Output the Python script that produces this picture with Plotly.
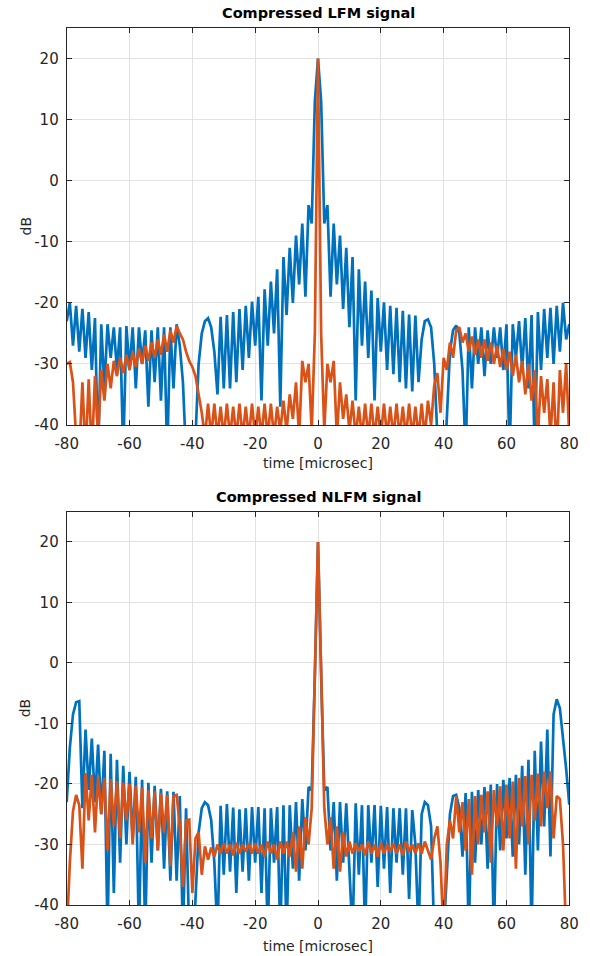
import plotly.graph_objects as go

# ---------------- data ----------------
TIME = list(range(-80, 81))  # sample times, microseconds

LFM_BLUE = [
    -23, -20, -27, -20.5, -28, -21, -29, -21.5, -31, -22.5,          # -80..-71
    -45, -23.5, -34, -23.5, -29, -24, -31, -24, -45, -23.8,          # -70..-61
    -31, -24, -34, -24, -30, -24.5, -37, -24.5, -33, -24,            # -60..-51
    -36, -24, -45, -24, -34, -23.5, -27, -33, -45, -50,              # -50..-41
    -50, -42, -30, -25, -23, -22.5, -24, -28, -35, -22.3,            # -40..-31
    -34, -22, -34, -21.5, -33, -21, -31, -20.5, -29, -19.8,          # -30..-21
    -27, -19, -36, -17.8, -27, -16.5, -25, -14.5, -37, -12.5,        # -20..-11
    -22, -11, -20, -9, -17, -7, -19, -4, -7, 13,                     # -10..-1
    20,                                                              # 0
    13, -7, -4, -19, -7, -17, -9, -21, -11, -24,                     # 1..10
    -12.5, -36, -14.5, -27, -16.5, -29, -18, -36, -19.2, -28,        # 11..20
    -19.9, -31, -20.5, -31.7, -20.8, -33, -21.3, -34, -21.9, -34.5,  # 21..30
    -22.1, -33, -26, -23, -22.7, -24, -30, -42, -50, -50,            # 31..40
    -38, -28, -24.5, -23.7, -25, -31, -45, -24, -34, -24,            # 41..50
    -30, -24, -32, -24.5, -30, -24, -29, -24, -31, -23.5,            # 51..60
    -45, -23.5, -29, -23, -31, -22.5, -34, -22, -45, -21.5,          # 61..70
    -31, -21, -29, -20.8, -30, -20.5, -28, -20, -26, -23.5,          # 71..80
]

LFM_ORANGE = [
    -30, -29.7, -33, -42, -45, -33, -45, -32.5, -45, -32,            # -80..-71
    -42, -31, -36, -30, -34, -29.5, -32, -29, -31.5, -28.5,          # -70..-61
    -31, -28, -30.5, -27.5, -30, -27, -29.5, -26.5, -29, -26,        # -60..-51
    -28.5, -25.2, -28, -24.5, -26.5, -23.8, -25, -26, -28, -29.5,    # -50..-41
    -30.5, -32, -35, -38, -42, -36.5, -42, -36.5, -42, -37,          # -40..-31
    -42, -36.5, -42, -37, -42, -36.5, -42, -37, -42, -36.5,          # -30..-21
    -42, -37, -42, -36.5, -42, -36.5, -42, -37, -41, -36,            # -20..-11
    -41, -35, -39, -33, -42, -29.5, -33, -30, -41, -25,              # -10..-1
    20,                                                              # 0
    -25, -41, -30, -33, -29.5, -42, -33, -39, -35, -41,              # 1..10
    -36, -42, -37, -42, -36.5, -42, -36.5, -42, -37, -42,            # 11..20
    -36.5, -42, -37, -42, -36.5, -42, -37, -42, -36.5, -42,          # 21..30
    -37, -42, -36.5, -42, -36, -40, -33.5, -31.5, -38, -29,          # 31..40
    -31, -26.5, -29, -24.5, -24, -26.5, -25, -28, -25.5, -28.5,      # 41..50
    -26, -29, -26, -29.5, -26.5, -30, -27, -30.5, -27.5, -31,        # 51..60
    -28, -32, -28.5, -33, -29.5, -35, -30, -36, -31, -42,            # 61..70
    -32, -38, -32.5, -42, -33, -45, -31, -38, -30, -42,              # 71..80
]

NLFM_BLUE = [
    -23, -14, -8.5, -6.5, -6.3, -24, -11, -21, -12.5, -23,           # -80..-71
    -13.5, -25, -14.5, -45, -15, -38, -16, -33, -17, -30,            # -70..-61
    -18, -29, -18.8, -45, -19.3, -45, -19.8, -33, -20.3, -31,        # -60..-51
    -20.8, -34, -21.2, -36, -21.3, -36, -22, -45, -24, -45,          # -50..-41
    -50, -38, -28, -24, -23, -23.5, -26, -33, -45, -23.6,            # -40..-31
    -35, -23.3, -34.5, -23.9, -38, -24.2, -34.5, -24, -36, -23.8,    # -30..-21
    -33, -23.8, -38, -24, -45, -24, -33, -23.8, -45, -23.5,          # -20..-11
    -45, -23.5, -34, -23, -36, -22.5, -31, -20.5, -21, -2,           # -10..-1
    20,                                                              # 0
    -2, -21, -20.5, -31, -23, -36, -23, -33, -23.2, -34,             # 1..10
    -45, -23.2, -35, -23.5, -45, -23.5, -33, -23.5, -37, -23.6,      # 11..20
    -34, -23.8, -38, -24, -33, -24, -35, -24, -39, -24.3,            # 21..30
    -30, -45, -25, -23, -23.5, -27, -45, -50, -50, -45,              # 31..40
    -35, -25, -22, -21.8, -24, -32, -21.5, -45, -21.3, -33,          # 41..50
    -21, -30, -20.5, -34, -20.1, -45, -20, -31, -19.3, -29,          # 51..60
    -19, -32, -18.5, -30, -17, -35, -16, -45, -14.5, -31,            # 61..70
    -13, -27, -11, -32, -8.5, -6, -7.5, -12, -17.5, -23.4,           # 71..80
]

NLFM_ORANGE = [
    -45, -33, -24.5, -21.8, -23.5, -34, -18.2, -26, -18.5, -28,      # -80..-71
    -18.8, -25, -19, -31, -19.2, -27, -19.5, -29, -19.8, -26,        # -70..-61
    -20, -30, -20.3, -28, -20.6, -33, -21, -29, -21.2, -31,          # -60..-51
    -21.5, -28, -21.8, -33.6, -22, -21.8, -27, -37, -26, -25.9,      # -50..-41
    -38, -29, -28, -35, -30.3, -32.5, -30.5, -32, -30, -31.5,        # -40..-31
    -29.8, -31.5, -30, -31.8, -29.7, -31.5, -30, -31.2, -29.8, -31.5,  # -30..-21
    -29.8, -31.5, -30, -32, -29.5, -31.5, -30, -32.5, -29.5, -31.5,  # -20..-11
    -29.5, -32, -28, -34.5, -27, -34, -25.5, -30, -24, -1,           # -10..-1
    20,                                                              # 0
    -1, -24, -30, -25.5, -34, -27, -34.5, -28, -32, -29.5,           # 1..10
    -31.5, -29.8, -31.2, -30, -31.8, -29.5, -31.5, -30, -32, -29.7,  # 11..20
    -31.5, -30, -31.2, -29.8, -31.5, -30, -31.8, -29.5, -31.2, -30,  # 21..30
    -31.5, -29.8, -31.5, -29.5, -31, -32.5, -29, -27, -33, -45,      # 31..40
    -30, -26, -29, -22, -28, -23, -31, -22.5, -35, -22,              # 41..50
    -30, -21.8, -28, -21.2, -33, -21, -27, -20.4, -31, -20.1,        # 51..60
    -29, -19.6, -34, -19, -27, -18.7, -30, -18.5, -26, -18.3,        # 61..70
    -27, -18, -24, -17.9, -29, -22, -22.5, -30, -45, -45,            # 71..80
]

X_TICKS = [-80, -60, -40, -20, 0, 20, 40, 60, 80]
X_TICK_TEXT = ["-80", "-60", "-40", "-20", "0", "20", "40", "60", "80"]
Y_TICKS = [-40, -30, -20, -10, 0, 10, 20]
Y_TICK_TEXT = ["-40", "-30", "-20", "-10", "0", "10", "20"]
TITLES = ["Compressed LFM signal", "Compressed NLFM signal"]
X_LABEL = "time [microsec]"
Y_LABEL = "dB"

for s in (LFM_BLUE, LFM_ORANGE, NLFM_BLUE, NLFM_ORANGE):
    assert len(s) == len(TIME)

# ---------------- styling ----------------
BLUE = "#0072BD"
ORANGE = "#D95319"
AX = "#262626"
GRID = "#e2e2e2"
FONT = "DejaVu Sans"
W, H = 590, 956

# pixel geometry (page coordinates) of the two axes boxes
X0, X1 = 66.7, 569.3
TOP_Y0, TOP_Y1 = 28.0, 425.0
BOT_Y0, BOT_Y1 = 511.7, 905.0


def px(x):
    return x / W


def py(y):
    return 1 - y / H


fig = go.Figure()
LW = 2.7
fig.add_trace(go.Scatter(x=TIME, y=LFM_BLUE, mode="lines", line=dict(color=BLUE, width=LW),
                         xaxis="x", yaxis="y", showlegend=False))
fig.add_trace(go.Scatter(x=TIME, y=LFM_ORANGE, mode="lines", line=dict(color=ORANGE, width=LW),
                         xaxis="x", yaxis="y", showlegend=False))
fig.add_trace(go.Scatter(x=TIME, y=NLFM_BLUE, mode="lines", line=dict(color=BLUE, width=LW),
                         xaxis="x2", yaxis="y2", showlegend=False))
fig.add_trace(go.Scatter(x=TIME, y=NLFM_ORANGE, mode="lines", line=dict(color=ORANGE, width=LW),
                         xaxis="x2", yaxis="y2", showlegend=False))

xcommon = dict(range=[-80, 80], tickvals=X_TICKS, ticktext=X_TICK_TEXT, ticks="inside",
               ticklen=5, tickcolor=AX, tickwidth=1, showline=True, linecolor=AX, linewidth=1,
               mirror="ticks", showgrid=True, gridcolor=GRID, gridwidth=1, zeroline=False,
               tickfont=dict(family=FONT, size=15, color=AX), ticklabelstandoff=5,
               automargin=False, domain=[px(X0), px(X1)], fixedrange=True)
ycommon = dict(range=[-40, 25], tickvals=Y_TICKS, ticktext=Y_TICK_TEXT, ticks="inside",
               ticklen=5, tickcolor=AX, tickwidth=1, showline=True, linecolor=AX, linewidth=1,
               mirror="ticks", showgrid=True, gridcolor=GRID, gridwidth=1, zeroline=False,
               tickfont=dict(family=FONT, size=15, color=AX), ticklabelstandoff=4,
               automargin=False, fixedrange=True)

fig.update_layout(
    template="none",
    width=W, height=H,
    margin=dict(l=0, r=0, t=0, b=0, pad=0),
    paper_bgcolor="white", plot_bgcolor="white",
    xaxis=dict(**xcommon, anchor="y"),
    yaxis=dict(**ycommon, anchor="x", domain=[py(TOP_Y1), py(TOP_Y0)]),
    xaxis2=dict(**xcommon, anchor="y2"),
    yaxis2=dict(**ycommon, anchor="x2", domain=[py(BOT_Y1), py(BOT_Y0)]),
)

cx = px((X0 + X1) / 2)
ann = []
for title, ty, xl_y, (b0, b1) in [(TITLES[0], 13.5, 463, (TOP_Y0, TOP_Y1)),
                                   (TITLES[1], 497, 946, (BOT_Y0, BOT_Y1))]:
    ann.append(dict(text="<b>" + title + "</b>", x=cx, y=py(ty), xref="paper", yref="paper",
                    xanchor="center", yanchor="middle", showarrow=False,
                    font=dict(family=FONT, size=14.5, color="black")))
    ann.append(dict(text=X_LABEL, x=cx, y=py(xl_y), xref="paper", yref="paper",
                    xanchor="center", yanchor="middle", showarrow=False,
                    font=dict(family=FONT, size=14, color=AX)))
    ann.append(dict(text=Y_LABEL, x=px(25), y=py((b0 + b1) / 2), xref="paper", yref="paper",
                    xanchor="center", yanchor="middle", showarrow=False, textangle=-90,
                    font=dict(family=FONT, size=14, color=AX)))
fig.update_layout(annotations=ann)

# remove the default 8px page margin so the figure fills the 590x956 window exactly
fig.write_html("out.html",
               config={"displayModeBar": False},
               post_script="document.body.style.margin='0';document.body.style.padding='0';")
